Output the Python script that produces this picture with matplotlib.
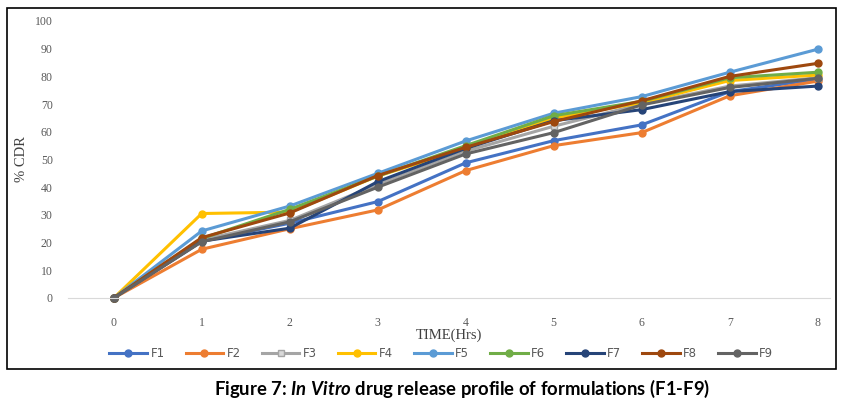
import matplotlib
matplotlib.use("Agg")
import matplotlib.pyplot as plt
from matplotlib.patches import Rectangle

plt.rcParams["mathtext.fontset"] = "custom"
plt.rcParams["mathtext.it"] = "Lato:italic:bold"
plt.rcParams["mathtext.rm"] = "Lato:bold"

time_hrs = [0, 1, 2, 3, 4, 5, 6, 7, 8]
labels = ["F1", "F2", "F3", "F4", "F5", "F6", "F7", "F8", "F9"]

f1 = [0, 20.5, 27, 34.8, 48.8, 56.8, 62.5, 74.5, 79]
f2 = [0, 17.6, 25, 31.8, 46, 55, 59.7, 73, 78.3]
f3 = [0, 21, 28, 41, 53, 62, 70, 76.5, 79.5]
f4 = [0, 30.5, 31, 44, 54, 65, 70.5, 78.5, 80.5]
f5 = [0, 24.2, 33.2, 45, 56.7, 66.7, 72.7, 81.5, 89.8]
f6 = [0, 21.5, 32, 44, 55, 65.8, 71, 79.5, 81.5]
f7 = [0, 20.5, 25.2, 42, 54, 64, 68, 74.5, 76.5]
f8 = [0, 21.8, 30.7, 44.2, 54.4, 63.7, 71.2, 80, 84.7]
f9 = [0, 20.3, 27.5, 40, 52, 59.7, 69.7, 76, 79.3]
series = [f1, f2, f3, f4, f5, f6, f7, f8, f9]

colors = ["#4472C4", "#ED7D31", "#A5A5A5", "#FFC000", "#5B9BD5",
          "#70AD47", "#264478", "#9E480E", "#636363"]
markers = ["o", "o", "s", "o", "o", "o", "o", "o", "o"]

fig = plt.figure(figsize=(8.43, 4.09), dpi=100)
ax = fig.add_axes([0.0807, 0.2714, 0.9039, 0.6773])

for vals, lab, c, m in zip(series, labels, colors, markers):
    if m == "s":
        ax.plot(time_hrs, vals, color=c, lw=2.2, marker=m, markersize=4,
                markerfacecolor="#D9D9D9", markeredgecolor=c, label=lab, clip_on=False)
    else:
        ax.plot(time_hrs, vals, color=c, lw=2.2, marker=m, markersize=5,
                label=lab, clip_on=False)

ax.set_xlim(-0.52, 8.14)
ax.set_ylim(0, 100)
ax.set_yticks(range(0, 101, 10))
ax.set_xticks(time_hrs)
for s in ["top", "right", "left"]:
    ax.spines[s].set_visible(False)
ax.spines["bottom"].set_color("#D9D9D9")
ax.tick_params(length=0, labelsize=8.5, labelcolor="#595959")
ax.tick_params(axis="y", pad=11)
ax.tick_params(axis="x", pad=14)
for t in ax.get_xticklabels() + ax.get_yticklabels():
    t.set_family("Liberation Serif")

ax.set_xlabel("TIME(Hrs)", family="Liberation Serif", fontsize=10.5,
              color="#404040", labelpad=-1)
ax.set_ylabel("% CDR", family="Liberation Serif", fontsize=10.5,
              color="#404040", labelpad=5)

ax.legend(loc="upper center", bbox_to_anchor=(0.49, -0.14), ncol=9, frameon=False,
          fontsize=8.5, handlelength=3.2, columnspacing=1.75, handletextpad=0.3,
          labelcolor="#595959")

fig.patches.append(Rectangle((0.0083, 0.0978), 0.9834, 0.8826, transform=fig.transFigure,
                             fill=False, edgecolor="black", lw=1.2))

fig.text(0.548, 0.05, "Figure 7: $\\mathit{In\\ Vitro}$ drug release profile of formulations (F1-F9)",
         ha="center", va="center", fontsize=13.3, fontweight="bold", family="Lato")

fig.savefig("out.png", dpi=100)
